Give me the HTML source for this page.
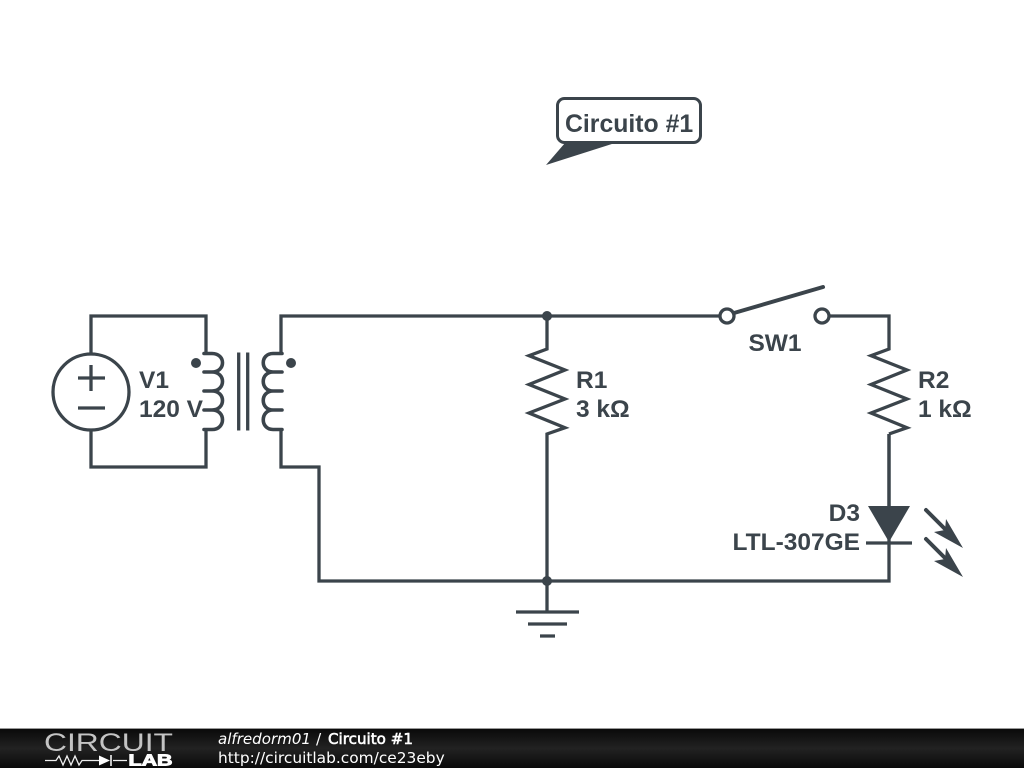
<!DOCTYPE html>
<html>
<head>
<meta charset="utf-8">
<style>
html,body{margin:0;padding:0;background:#fff}
svg{display:block}
.w{fill:none;stroke:#3b444b;stroke-width:3.300;stroke-linejoin:miter}
.c{fill:none;stroke:#3b444b;stroke-width:3.600;stroke-linecap:round}
.t{font-family:"Liberation Sans",sans-serif;font-weight:bold;font-size:24.500px;fill:#3b444b}
.f{font-family:"DejaVu Sans",sans-serif;font-size:15.400px;fill:#fff}
</style>
</head>
<body>
<svg width="1024" height="768" viewBox="0 0 1024 768" xmlns="http://www.w3.org/2000/svg">
<defs>
<linearGradient id="g" x1="0" y1="0" x2="0" y2="1">
<stop offset="0" stop-color="#0a0a0a"/><stop offset="0.5" stop-color="#222"/><stop offset="1" stop-color="#0a0a0a"/>
</linearGradient>
</defs>
<rect width="1024" height="768" fill="#fff"/>

<!-- primary loop -->
<path class="w" d="M91 354V316H206V353M91 430V467H206V429"/>
<circle class="w" cx="91" cy="392" r="38"/>
<path class="w" d="M78 378H105M91 365V391M78 408H105"/>
<path class="c" d="M204 353.500H212C226 353.500 226 372 212 372H204M212 372C226 372 226 391 212 391H204M212 391C226 391 226 410 212 410H204M212 410C226 410 226 429.500 212 429.500H204"/>
<circle cx="196" cy="363" r="5" fill="#3b444b"/>

<!-- core -->
<path class="w" d="M238.700 352.500V430.500M247.700 352.500V430.500"/>

<!-- secondary -->
<path class="c" d="M282 353.500H273C260 353.500 260 372 273 372H282M273 372C260 372 260 391 273 391H282M273 391C260 391 260 410 273 410H282M273 410C260 410 260 429.500 273 429.500H282"/>
<circle cx="291" cy="363" r="5" fill="#3b444b"/>
<path class="w" d="M281 353V316H720M281 429V467H319V581H889V434"/>

<!-- R1 -->
<path class="w" d="M547 316V349L529 355.700L565 370L529 384.500L565 399L529 413L565 427.700L547 434V581"/>
<circle cx="547" cy="316" r="5" fill="#3b444b"/>
<circle cx="547" cy="581" r="5" fill="#3b444b"/>

<!-- ground -->
<path class="w" d="M547 581V612M516 612H579M528 624H567M540 636H555"/>

<!-- switch -->
<circle class="w" cx="727" cy="316" r="7"/>
<circle class="w" cx="822" cy="316" r="7"/>
<path d="M734 313L823 287" fill="none" stroke="#3b444b" stroke-width="4" stroke-linecap="round"/>
<path class="w" d="M829 316H889V349L871 355.700L907 370L871 384.500L907 399L871 413L907 427.700L889 434"/>

<!-- LED -->
<path d="M868 506H910L889 542Z" fill="#3b444b"/>
<path class="w" d="M889 434V506M866 543H912"/>
<path d="M926 510L950 534M926 539L950 563" fill="none" stroke="#3b444b" stroke-width="4" stroke-linecap="round"/>
<path d="M963 548L934 532L945 530L946 519Z" fill="#3b444b"/>
<path d="M963 577L934 561L945 559L946 548Z" fill="#3b444b"/>

<!-- callout -->
<rect x="557.500" y="98.500" width="143" height="44" rx="7" ry="7" fill="#fff" stroke="#3b444b" stroke-width="3"/>
<path d="M615 143L546 165L565 143Z" fill="#3b444b"/>
<text class="t" x="565" y="132" style="font-size:24.800px">Circuito #1</text>

<!-- labels -->
<text class="t" x="139" y="388">V1</text>
<text class="t" x="139" y="417">120 V</text>
<text class="t" x="576" y="388">R1</text>
<text class="t" x="576" y="417">3 kΩ</text>
<text class="t" x="918" y="388">R2</text>
<text class="t" x="918" y="417">1 kΩ</text>
<text class="t" x="775" y="351" text-anchor="middle">SW1</text>
<text class="t" x="860" y="521" text-anchor="end">D3</text>
<text class="t" x="860" y="550" text-anchor="end">LTL-307GE</text>

<!-- footer -->
<rect x="0" y="728" width="1024" height="1" fill="#999"/>
<rect x="0" y="729" width="1024" height="39" fill="url(#g)"/>
<text x="44" y="751" textLength="129" lengthAdjust="spacingAndGlyphs" style="font-family:'Liberation Sans',sans-serif;font-size:25px" fill="#c4c4c4">CIRCUIT</text>
<path d="M45 760.500H56L59 756L63 765L67 756L71 765L75 756L79 765L82 760.500H99M113 760.500H127" fill="none" stroke="#eee" stroke-width="1.300"/>
<path d="M99 755.500V765.500L110 760.500Z" fill="#fff"/>
<path d="M111 755V766" stroke="#fff" stroke-width="1.500"/>
<text x="128.500" y="765.500" textLength="44" lengthAdjust="spacingAndGlyphs" style="font-family:'Liberation Sans',sans-serif;font-size:15.500px;font-weight:bold" fill="#fff" stroke="#fff" stroke-width="0.900">LAB</text>
<text class="f" x="218" y="744" font-style="italic" textLength="93" lengthAdjust="spacingAndGlyphs">alfredorm01</text>
<text class="f" x="316" y="744">/</text>
<text class="f" x="328" y="744" textLength="85" lengthAdjust="spacingAndGlyphs" stroke="#fff" stroke-width="0.600">Circuito #1</text>
<text class="f" x="218" y="763">http://circuitlab.com/ce23eby</text>
</svg>
</body>
</html>
